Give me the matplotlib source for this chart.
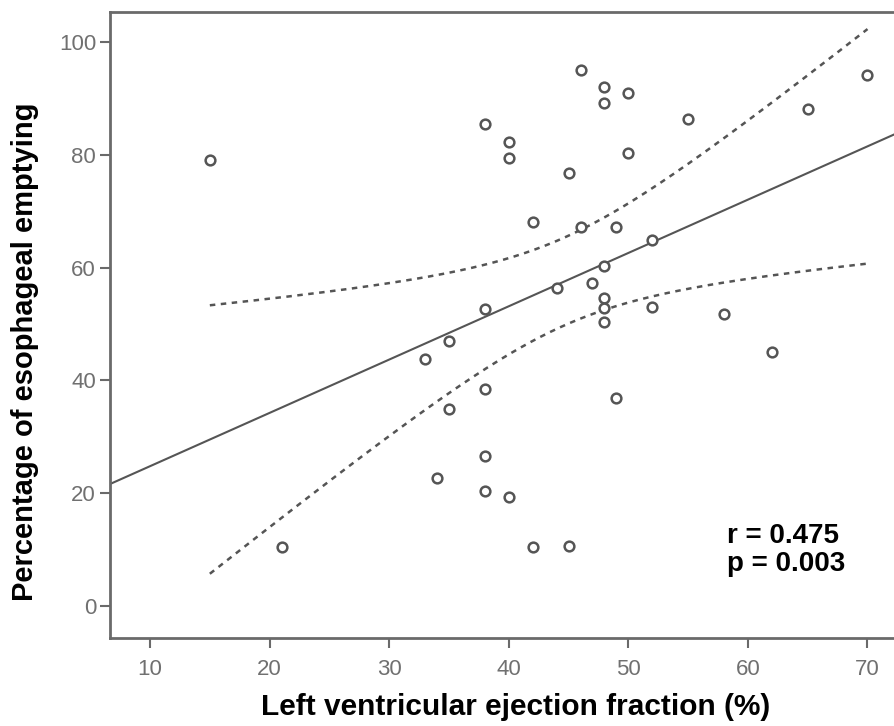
import matplotlib as ml
ml.use('Agg')
import numpy as np
import matplotlib.pyplot as plt

plt.rcParams['font.family'] = ['Liberation Sans', 'DejaVu Sans']

# Data
lvef = [15, 21, 33, 34, 35, 35, 38, 38, 38, 38, 38, 40, 40, 40, 42, 42, 44, 45, 45,
        46, 46, 47, 48, 48, 48, 48, 48, 48, 49, 49, 50, 50, 52, 52, 55, 58, 62, 65, 70]
emptying = [79.2, 10.4, 43.8, 22.7, 47.0, 35.0, 85.5, 52.7, 38.5, 26.6, 20.4, 82.3, 79.4, 19.3,
            68.1, 10.4, 56.4, 76.8, 10.6, 95.1, 67.2, 57.3, 92.1, 89.3, 60.3, 54.6, 52.9, 50.4,
            67.2, 36.9, 91.0, 80.4, 64.9, 53.0, 86.4, 51.8, 45.0, 88.2, 94.3]
stats_text = 'r = 0.475\np = 0.003'

x = np.array(lvef, dtype=float)
y = np.array(emptying, dtype=float)

# Linear fit and 95% confidence band for the mean
n = len(x)
slope, intercept = np.polyfit(x, y, 1)
resid = y - (slope * x + intercept)
s = np.sqrt(np.sum(resid ** 2) / (n - 2))
t = 2.026
xm = x.mean()
sxx = np.sum((x - xm) ** 2)

xl = np.linspace(0, 80, 200)
xb = np.linspace(x.min(), x.max(), 200)
yb = slope * xb + intercept
half = t * s * np.sqrt(1.0 / n + (xb - xm) ** 2 / sxx)

fig = plt.figure(figsize=(8.95, 7.26), dpi=100)
ax = fig.add_axes([0.1229, 0.1212, 0.8771, 0.8623])

grey = '#555555'
ax.plot(xl, slope * xl + intercept, color=grey, lw=1.5)
ax.plot(xb, yb + half, color=grey, lw=1.8, ls=(0, (2.2, 2.2)))
ax.plot(xb, yb - half, color=grey, lw=1.8, ls=(0, (2.2, 2.2)))
ax.plot(x, y, 'o', ms=7, mfc='white', mec=grey, mew=1.8, ls='none')

ax.set_xlim(6.65, 72.3)
ax.set_ylim(-5.74, 105.4)
ax.set_xticks([10, 20, 30, 40, 50, 60, 70])
ax.set_yticks([0, 20, 40, 60, 80, 100])

for side in ['left', 'bottom', 'top']:
    ax.spines[side].set_color('#6a6a6a')
    ax.spines[side].set_linewidth(2)
ax.spines['right'].set_visible(False)
ax.tick_params(direction='out', length=7, width=1.5, color='#6a6a6a',
               labelsize=16, labelcolor='#707070')
ax.tick_params(axis='x', pad=8)
ax.tick_params(axis='y', pad=3)

ax.set_xlabel('Left ventricular ejection fraction (%)', fontsize=21.5, fontweight='bold')
ax.set_ylabel('Percentage of esophageal emptying', fontsize=21, fontweight='bold')
ax.xaxis.set_label_coords(0.517, -0.088)
ax.yaxis.set_label_coords(-0.09, 0.457)

ax.text(0.786, 0.1406, stats_text, transform=ax.transAxes, fontsize=20, fontweight='bold',
        va='center', ha='left', linespacing=1.1)

fig.savefig('out.png', dpi=100)
